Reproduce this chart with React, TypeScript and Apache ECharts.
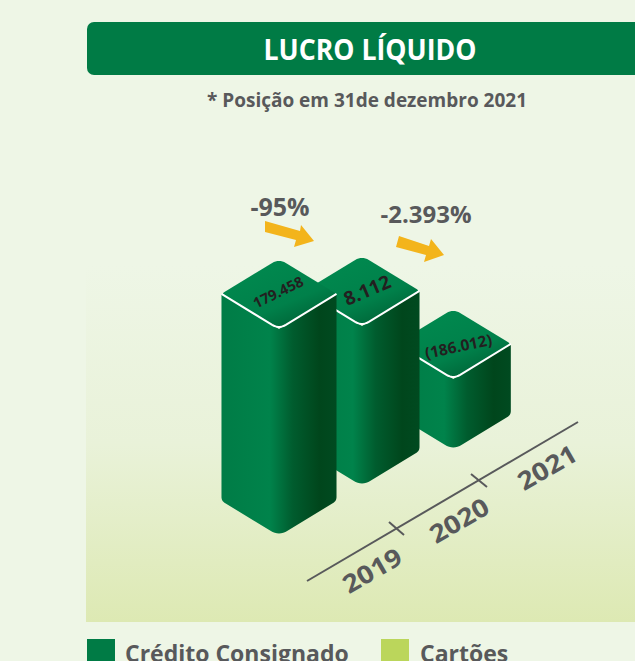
import React, { useEffect, useRef } from "react";
import * as echarts from "echarts";

// Chart content
const years = ["2019", "2020", "2021"];
const lucroLiquido = [179458, 8112, -186012];
const barLabels = ["179.458", "8.112", "(186.012)"];
const variations = ["-95%", "-2.393%"];
const legendNames = ["Crédito Consignado", "Cartões"];
// The columns are pictorial (not to scale): drawn height and rise along the isometric floor
const drawnHeights = [207, 160, 71];
const floorRise = [0, 50, 86];
const floorSlots = [0.5, 1.5, 2.6];

const labelSizes = [14.5, 19, 15.5];
const labelAngles = [26, 23, 12];
const labelShift = [[-1, -2], [5, -1], [5, 2]];

const FONT = "Open Sans";
const GREY = "#58595b";
const GREEN = "#007b45";
const BAR_HALF_SLOTS = 0.693;
const DEPTH_RATIO = 0.61;

type Pt = [number, number];

function rounded(pts: Pt[], radii: number[], closed: boolean): Pt[] {
  const out: Pt[] = [];
  const n = pts.length;
  pts.forEach((p, i) => {
    const r = radii[i];
    const isEnd = !closed && (i === 0 || i === n - 1);
    if (!r || isEnd) {
      out.push(p);
      return;
    }
    const a = pts[(i - 1 + n) % n];
    const b = pts[(i + 1) % n];
    const la = Math.hypot(a[0] - p[0], a[1] - p[1]);
    const lb = Math.hypot(b[0] - p[0], b[1] - p[1]);
    const s: Pt = [p[0] + ((a[0] - p[0]) / la) * r, p[1] + ((a[1] - p[1]) / la) * r];
    const e: Pt = [p[0] + ((b[0] - p[0]) / lb) * r, p[1] + ((b[1] - p[1]) / lb) * r];
    for (let k = 0; k <= 8; k++) {
      const t = k / 8;
      const u = 1 - t;
      out.push([
        u * u * s[0] + 2 * u * t * p[0] + t * t * e[0],
        u * u * s[1] + 2 * u * t * p[1] + t * t * e[1],
      ]);
    }
  });
  return out;
}

function renderBar(params: any, api: any) {
  const slot = api.value(0);
  const lift = api.value(1);
  const h = api.value(2);
  const idx = api.value(3);
  const bottom = api.coord([slot, lift]);
  const top = api.coord([slot, lift + h]);
  const half = api.size([BAR_HALF_SLOTS, 0])[0];
  const depth = half * DEPTH_RATIO;
  const cx = top[0];

  const body = rounded(
    [
      [cx - half, top[1] - depth],
      [cx, top[1]],
      [cx + half, top[1] - depth],
      [cx + half, bottom[1] - depth],
      [cx, bottom[1]],
      [cx - half, bottom[1] - depth],
    ],
    [0, 0, 0, 4, 10, 4],
    true
  );
  const topFace = rounded(
    [
      [cx - half, top[1] - depth],
      [cx, top[1] - depth * 2],
      [cx + half, top[1] - depth],
      [cx, top[1]],
    ],
    [3, 8, 3, 8],
    true
  );
  const edge = rounded(
    [
      [cx - half, top[1] - depth],
      [cx, top[1]],
      [cx + half, top[1] - depth],
    ],
    [0, 8, 0],
    false
  );
  const shift = labelShift[idx];
  return {
    type: "group",
    children: [
      {
        type: "polygon",
        shape: { points: body },
        style: {
          fill: new echarts.graphic.LinearGradient(0, 0, 1, 0, [
            { offset: 0, color: "#007c46" },
            { offset: 0.42, color: "#00834b" },
            { offset: 0.62, color: "#005c2e" },
            { offset: 0.85, color: "#00461c" },
            { offset: 1, color: "#004a20" },
          ]),
        },
      },
      {
        type: "polygon",
        shape: { points: topFace },
        style: {
          fill: new echarts.graphic.LinearGradient(0.2, 0, 0.9, 1, [
            { offset: 0, color: "#008a4f" },
            { offset: 0.6, color: "#00804a" },
            { offset: 1, color: "#005a30" },
          ]),
        },
      },
      {
        type: "polyline",
        shape: { points: edge },
        style: { stroke: "#ffffff", lineWidth: 2, fill: "none" },
      },
      {
        type: "text",
        x: cx + shift[0],
        y: top[1] - depth + shift[1],
        rotation: (labelAngles[idx] * Math.PI) / 180,
        style: {
          text: barLabels[idx],
          fontFamily: FONT,
          fontWeight: 700,
          fontSize: labelSizes[idx],
          fill: "#231f20",
          align: "center",
          verticalAlign: "middle",
        },
      },
    ],
  };
}

const txt = (
  text: string,
  x: number,
  y: number,
  size: number,
  fill: string,
  align = "center",
  deg = 0,
  scaleX = 1
) => ({
  type: "text",
  x,
  y,
  scaleX,
  rotation: (deg * Math.PI) / 180,
  z: 5,
  style: { text, fontFamily: FONT, fontWeight: 700, fontSize: size, fill, align, verticalAlign: "middle" },
});

const arrow = (pts: number[][]) => ({
  type: "polygon",
  z: 5,
  shape: { points: pts },
  style: { fill: "#f3b41b" },
});

const graphicEls = [
  {
    type: "rect",
    z: 0,
    shape: { x: 86, y: 265, width: 549, height: 357 },
    style: {
      fill: new echarts.graphic.LinearGradient(0, 0, 0, 1, [
        { offset: 0, color: "#eef6e6" },
        { offset: 0.5, color: "#e9f2d9" },
        { offset: 1, color: "#dde9b3" },
      ]),
    },
  },
  {
    type: "rect",
    z: 1,
    shape: { x: 87, y: 22, width: 560, height: 53, r: 7 },
    style: { fill: GREEN },
  },
  txt("LUCRO LÍQUIDO", 370, 49, 29, "#ffffff", "center", 0, 0.92),
  txt("* Posição em 31de dezembro 2021", 367, 100, 19, GREY),
  txt(variations[0], 280, 206, 25, GREY),
  txt(variations[1], 426, 213, 24, GREY),
  arrow([[265, 221], [300, 231], [301, 225], [314, 241], [294, 247], [296, 240], [265, 232]]),
  arrow([[399, 236], [429, 246], [431, 239], [444, 255], [424, 262], [426, 255], [396, 247]]),
  {
    type: "line",
    z: 5,
    shape: { x1: 307, y1: 581, x2: 578, y2: 422 },
    style: { stroke: GREY, lineWidth: 2 },
  },
  {
    type: "line",
    z: 5,
    shape: { x1: 389, y1: 522, x2: 404, y2: 535 },
    style: { stroke: GREY, lineWidth: 2 },
  },
  {
    type: "line",
    z: 5,
    shape: { x1: 471, y1: 474, x2: 487, y2: 487 },
    style: { stroke: GREY, lineWidth: 2 },
  },
  txt(years[0], 372, 570, 25, GREY, "center", 30, 1.12),
  txt(years[1], 459, 520, 25, GREY, "center", 30, 1.12),
  txt(years[2], 547, 467, 25, GREY, "center", 30, 1.12),
  { type: "rect", z: 5, shape: { x: 87, y: 639, width: 28, height: 22 }, style: { fill: GREEN } },
  txt(legendNames[0], 125, 653, 23, GREY, "left"),
  { type: "rect", z: 5, shape: { x: 381, y: 639, width: 28, height: 22 }, style: { fill: "#bbd65b" } },
  txt(legendNames[1], 420, 653, 23, GREY, "left"),
];

export default function App() {
  const ref = useRef<HTMLDivElement>(null);
  useEffect(() => {
    document.body.style.margin = "0";
    document.body.style.background = "#eef6e6";
    const chart = echarts.init(ref.current!, null, { renderer: "svg" });
    const rows = years
      .map((y, i) => [floorSlots[i], floorRise[i], drawnHeights[i], i, lucroLiquido[i]])
      .reverse();
    chart.setOption({
      animation: false,
      backgroundColor: "#eef6e6",
      grid: { left: 237.5, width: 249, top: 0, height: 536 },
      xAxis: { type: "value", min: 0, max: 3, show: false },
      yAxis: { type: "value", min: 0, max: 536, show: false },
      graphic: { elements: graphicEls },
      series: [
        {
          type: "custom",
          name: legendNames[0],
          coordinateSystem: "cartesian2d",
          renderItem: renderBar,
          clip: false,
          z: 3,
          encode: { x: 0, y: 1 },
          data: rows,
        },
      ],
    });
    return () => chart.dispose();
  }, []);
  return <div ref={ref} style={{ position: "fixed", left: 0, top: 0, width: 635, height: 661 }} />;
}
